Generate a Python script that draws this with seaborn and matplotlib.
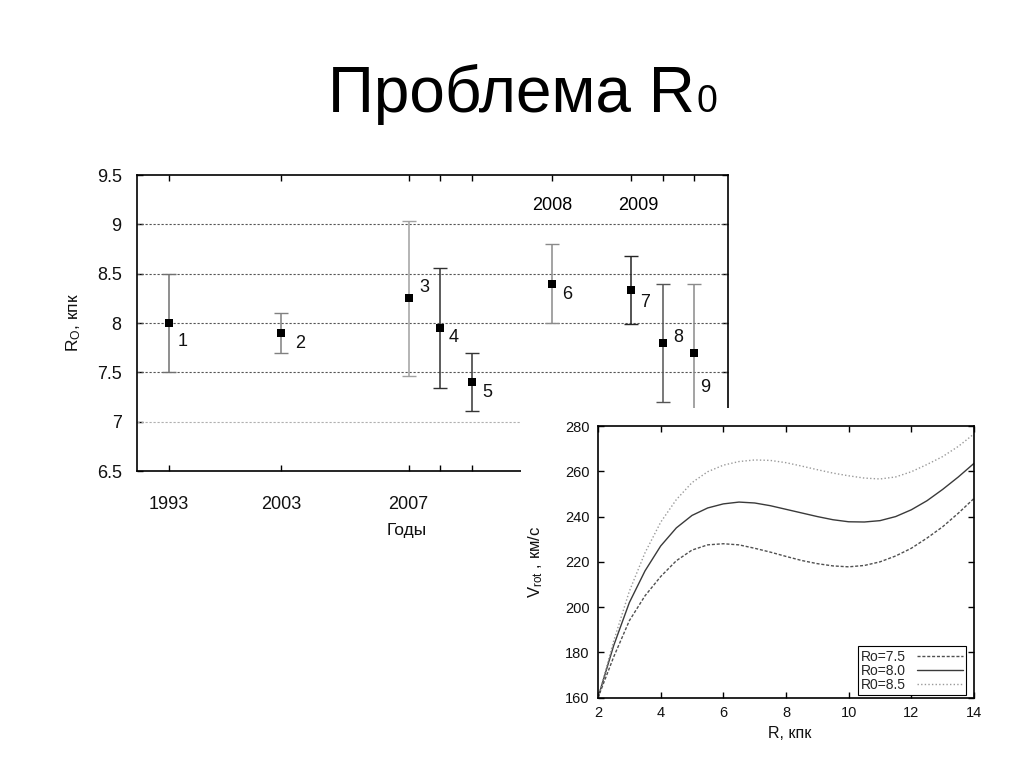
import numpy as np
import pandas as pd
import matplotlib
matplotlib.use("Agg")
import matplotlib.pyplot as plt
from matplotlib import font_manager
from matplotlib.patches import Rectangle
import seaborn as sns

# ---------------- data ----------------
point_ids = ["1", "2", "3", "4", "5", "6", "7", "8", "9"]
point_pos = [0, 3.5, 7.5, 8.5, 9.5, 12, 14.45, 15.45, 16.45]
r0_values = [8.00, 7.90, 8.25, 7.95, 7.40, 8.40, 8.33, 7.80, 7.70]
r0_upper = [8.50, 8.10, 9.03, 8.56, 7.70, 8.80, 8.68, 8.40, 8.40]
r0_lower = [7.50, 7.70, 7.46, 7.34, 7.11, 8.00, 7.99, 7.20, 7.00]
bar_colors = ["#707070", "#808080", "#a0a0a0", "#303030", "#353535",
              "#8a8a8a", "#252525", "#555555", "#8a8a8a"]
year_labels = ["1993", "2003", "2007", "", "", "", "", "", ""]
top_years = ["2008", "2009"]
top_year_pos = [12.0, 14.7]
ytick_vals = [6.5, 7.0, 7.5, 8.0, 8.5, 9.0, 9.5]
ytick_labels = ["6.5", "7", "7.5", "8", "8.5", "9", "9.5"]

R_kpc = [2, 2.5, 3, 3.5, 4, 4.5, 5, 5.5, 6, 6.5, 7, 7.5, 8, 8.5, 9, 9.5,
         10, 10.5, 11, 11.5, 12, 12.5, 13, 13.5, 14]
V_75 = [160, 178, 194, 205, 213.5, 220.5, 225.2, 227.5, 228, 227.5, 226,
        224.3, 222.4, 220.6, 219.2, 218.2, 217.8, 218.4, 220, 222.6, 226,
        230.5, 235.5, 241.5, 248]
V_80 = [160, 183, 202, 216, 227, 235, 240.5, 243.8, 245.6, 246.4, 246,
        244.8, 243.2, 241.6, 240, 238.6, 237.7, 237.6, 238.2, 240, 243,
        247, 252, 257.5, 263.5]
V_85 = [160, 185, 207, 224, 237.5, 247.5, 255, 259.8, 262.7, 264.3, 265,
        264.8, 263.8, 262.3, 260.7, 259.2, 258, 257, 256.6, 257.5, 259.8,
        263, 266.5, 271, 276.5]
curve_names = ["Ro=7.5", "Ro=8.0", "R0=8.5"]

# ---------------- style ----------------
sns.set_theme(style="white")
names = {f.name for f in font_manager.fontManager.ttflist}
narrow = "Liberation Sans Narrow" if "Liberation Sans Narrow" in names else "Liberation Sans"
main_fs = 14.5 if narrow == "Liberation Sans Narrow" else 13
plt.rcParams["font.family"] = ["Liberation Sans", "DejaVu Sans"]
plt.rcParams["mathtext.fontset"] = "custom"
plt.rcParams["mathtext.rm"] = "Liberation Sans"
plt.rcParams["mathtext.it"] = "Liberation Sans"

fig = plt.figure(figsize=(10.24, 7.68), dpi=100)
fig.patch.set_facecolor("white")

W, H = 1024.0, 768.0

# ---------------- title ----------------
fig.text(695 / W, 1 - 112 / H, "Проблема R", ha="right", va="baseline",
         fontsize=46, family=["Liberation Sans", "DejaVu Sans"], color="black")
fig.text(697 / W, 1 - 112 / H, "0", ha="left", va="baseline",
         fontsize=27, family=["Liberation Sans", "DejaVu Sans"], color="black")

# ---------------- main chart ----------------
ax = fig.add_axes([137 / W, 1 - 471 / H, 591 / W, 296 / H])
ax.set_facecolor("white")
ax.set_xlim(-1, 17.5)
ax.set_ylim(6.5, 9.5)

for yv, c in zip([7.0, 7.5, 8.0, 8.5, 9.0], ["#b0b0b0", "#555555", "#555555", "#555555", "#555555"]):
    ax.axhline(yv, color=c, linestyle=(0, (2, 1.6)), linewidth=0.8, zorder=1)

for xp, yv, lo, hi, c in zip(point_pos, r0_values, r0_lower, r0_upper, bar_colors):
    ax.errorbar([xp], [yv], yerr=[[yv - lo], [hi - yv]], fmt="none",
                ecolor=c, elinewidth=1.1, capsize=5, capthick=1.0, zorder=2)

df_pts = pd.DataFrame({"pos": point_pos, "R0": r0_values})
sns.scatterplot(data=df_pts, x="pos", y="R0", marker="s", s=34, color="black",
                edgecolor="black", linewidth=0, ax=ax, zorder=3, legend=False)

label_offsets = [(14, -18), (19, -11), (16, 11), (13, -10), (15, -10),
                 (15, -11), (14, -12), (16, 5), (11, -35)]
for pid, xp, yv, (dx, dy) in zip(point_ids, point_pos, r0_values, label_offsets):
    ax.annotate(pid, (xp, yv), xytext=(dx, dy), textcoords="offset pixels",
                ha="center", va="center", fontsize=main_fs, family=narrow, color="#111111")

for txt, xp in zip(top_years, top_year_pos):
    ax.text(xp, 9.19, txt, ha="center", va="center", fontsize=main_fs,
            family=narrow, color="black")

ax.set_xticks(point_pos)
ax.set_xticklabels(year_labels, family=narrow, fontsize=main_fs)
ax.set_yticks(ytick_vals)
ax.set_yticklabels(ytick_labels, family=narrow, fontsize=main_fs)
ax.tick_params(axis="x", direction="in", top=True, bottom=True, length=4,
               width=1, color="black", pad=18, labelcolor="#111111")
ax.tick_params(axis="y", direction="in", left=True, right=True, length=4,
               width=1, color="black", pad=11, labelcolor="#111111")
for sp in ax.spines.values():
    sp.set_color("black")
    sp.set_linewidth(1.2)
    sp.set_visible(True)

ax.set_ylabel("R$_{\\rm O}$, кпк", fontsize=12.5, family=narrow, color="#111111")
ax.yaxis.set_label_coords(-0.092, 0.5)
ax.set_xlabel("Годы", fontsize=main_fs - 0.5, family=narrow, color="#111111")
ax.xaxis.set_label_coords((407 - 137) / 591, -(523 - 471) / 296)

# white backing for the inset
fig.patches.append(Rectangle((521 / W, 0), 1 - 521 / W, 1 - 408 / H,
                             transform=fig.transFigure, facecolor="white",
                             edgecolor="none", zorder=1))

# ---------------- inset: rotation curves ----------------
ax2 = fig.add_axes([598 / W, 1 - 697.7 / H, 376 / W, 271.7 / H])
ax2.set_zorder(2)
ax2.set_facecolor("white")

df_rc = pd.DataFrame({
    "R": R_kpc * 3,
    "V": V_75 + V_80 + V_85,
    "curve": [curve_names[0]] * len(R_kpc) + [curve_names[1]] * len(R_kpc)
             + [curve_names[2]] * len(R_kpc),
})
palette = {curve_names[0]: "#505050", curve_names[1]: "#3a3a3a", curve_names[2]: "#9a9a9a"}
dashes = {curve_names[0]: (2.2, 1.3), curve_names[1]: "", curve_names[2]: (1, 1.6)}
sns.lineplot(data=df_rc, x="R", y="V", hue="curve", style="curve",
             hue_order=curve_names, style_order=curve_names, palette=palette,
             dashes=dashes, linewidth=1.0, sort=False, ax=ax2, legend=False)

ax2.set_xlim(2, 14)
ax2.set_ylim(160, 280)
ax2.set_xticks([2, 4, 6, 8, 10, 12, 14])
ax2.set_yticks([160, 180, 200, 220, 240, 260, 280])
ax2.tick_params(direction="in", top=True, right=True, left=True, bottom=True,
                length=4, width=1, color="black", labelsize=10.5, pad=6,
                labelcolor="#111111")
for sp in ax2.spines.values():
    sp.set_color("black")
    sp.set_linewidth(1.2)
    sp.set_visible(True)

ax2.set_ylabel("V$_{\\rm rot}$ , км/с", fontsize=12, color="#111111")
ax2.yaxis.set_label_coords(-0.14, 0.5)
ax2.set_xlabel("R, кпк", fontsize=11.5, color="#111111")
ax2.xaxis.set_label_coords(0.51, -0.105)

lines = ax2.get_lines()[:3]
leg = ax2.legend(lines, curve_names, loc="lower right", bbox_to_anchor=(0.98, 0.01),
                 markerfirst=False, fontsize=10, frameon=True, fancybox=False,
                 edgecolor="black", framealpha=1, handlelength=3.3,
                 labelspacing=0.0, borderpad=0.25, handletextpad=0.8,
                 borderaxespad=0)
leg.get_frame().set_linewidth(0.8)

fig.savefig("out.png", dpi=100, facecolor="white")
